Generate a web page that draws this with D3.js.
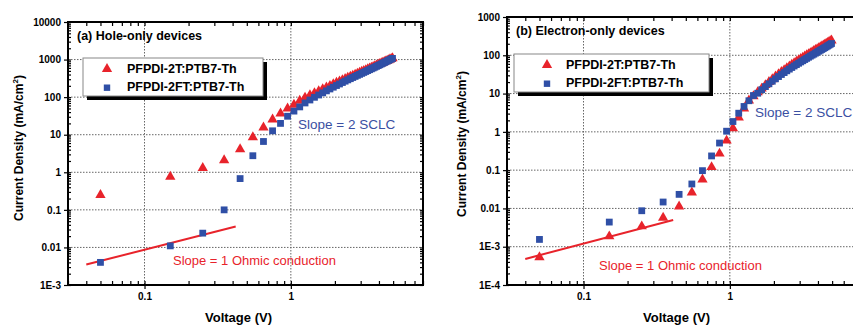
<!DOCTYPE html>
<html lang="en">
<head>
<meta charset="UTF-8">
<title>J-V hole-only / electron-only devices</title>
<script src="https://d3js.org/d3.v7.min.js"></script>
<style>
html, body { margin: 0; padding: 0; background: #fff; }
svg { display: block; font-family: "Liberation Sans", Arial, sans-serif; }
</style>
</head>
<body>
<div id="chart"></div>
<script>
// voltage steps used by both devices
var voltage = [0.05,0.15,0.25,0.35,0.45,0.55,0.65,0.75,0.85,0.95,
  1.05,1.15,1.25,1.35,1.45,1.55,1.65,1.75,1.85,1.95,
  2.05,2.15,2.25,2.35,2.45,2.55,2.65,2.75,2.85,2.95,
  3.05,3.15,3.25,3.35,3.45,3.55,3.65,3.75,3.85,3.95,
  4.05,4.15,4.25,4.35,4.45,4.55,4.65,4.75,4.85,4.95];

// (a) hole-only current density, mA/cm2
var holeT = [0.25,0.76,1.3,2.1,4.1,8.6,15.6,25.5,36.7,50,
  63,80,97,112,128,144,162,180,200,220,
  241,262,283,305,327,350,373,397,421,446,
  472,498,525,553,581,610,640,670,700,731,
  763,795,828,862,896,930,965,1000,1040,1090];
var holeFT = [0.004,0.011,0.024,0.1,0.68,2.76,6.6,12.7,20,31,
  42.5,55,70,84,99,114,130,147,165,184,
  204,224,245,266,288,310,333,356,380,404,
  429,455,482,510,538,567,597,628,660,693,
  727,762,798,835,873,912,952,993,1035,1075];

// (b) electron-only current density, mA/cm2
var elecT = [0.00053,0.00186,0.0034,0.0057,0.0112,0.026,0.057,0.12,0.27,0.59,
  1.24,2.37,4.07,6.6,8.5,10.8,13.5,16.6,20,23.8,
  27.8,32,36.5,41,46,51,56.5,62,68,74,
  80,86.5,93,100,107,114,121,129,137,145,
  153,162,171,180,190,200,210,221,232,244];
var elecFT = [0.00155,0.0044,0.0087,0.0147,0.0233,0.0435,0.097,0.235,0.51,1.04,
  1.86,3.07,4.6,6.5,8.9,10.2,12.6,15.2,18,21,
  24.3,27.8,31.5,35.3,39.3,43.5,48,52.5,57,62,
  67,72,77.5,83,89,95,101,107,114,121,
  128,135,142,150,158,166,175,184,193,203];

// slope = 1 guide lines
var ohmicV_A = [0.04, 0.42], ohmicJ_A = [0.0035, 0.036];
var ohmicV_B = [0.04, 0.41], ohmicJ_B = [0.00048, 0.005];

// ticks
var xTicks = [0.1, 1];
var xLabels = ["0.1", "1"];
var yTicksA = [1e-3, 1e-2, 1e-1, 1, 10, 100, 1000, 10000];
var yLabelsA = ["1E-3", "0.01", "0.1", "1", "10", "100", "1000", "10000"];
var yTicksB = [1e-4, 1e-3, 1e-2, 1e-1, 1, 10, 100, 1000];
var yLabelsB = ["1E-4", "1E-3", "0.01", "0.1", "1", "10", "100", "1000"];

var seriesNames = ["PFPDI-2T:PTB7-Th", "PFPDI-2FT:PTB7-Th"];

var RED = "#e8232b", BLUE = "#2f4fa6";

var svg = d3.select("#chart").append("svg")
  .attr("width", 853).attr("height", 325);
svg.append("rect").attr("width", 853).attr("height", 325).attr("fill", "#fff");

function drawPanel(p) {
  var x = d3.scaleLog().domain([0.03, 8]).range([p.left, p.right]);
  var y = d3.scaleLog().domain(p.yDomain).range([p.bottom, p.top]);
  var g = svg.append("g");

  // dotted grid at the major ticks
  g.selectAll(".gy").data(p.yTicks.slice(1, -1)).enter().append("line")
    .attr("x1", p.left).attr("x2", p.right)
    .attr("y1", function(d) { return y(d); }).attr("y2", function(d) { return y(d); })
    .attr("stroke", "#666").attr("stroke-width", 1).attr("stroke-dasharray", "1.5,1.5");
  g.selectAll(".gx").data(xTicks).enter().append("line")
    .attr("x1", function(d) { return x(d); }).attr("x2", function(d) { return x(d); })
    .attr("y1", p.top).attr("y2", p.bottom)
    .attr("stroke", "#666").attr("stroke-width", 1).attr("stroke-dasharray", "1.5,1.5");

  // axes: labelled majors pointing out, all ticks pointing in
  var xMinor = x.ticks();
  var yMinor = y.ticks();
  function styleAxis(sel) {
    sel.select(".domain").remove();
    sel.selectAll("line").attr("stroke", "#000").attr("stroke-width", 1.2);
    sel.selectAll("text").attr("font-size", 10).attr("font-weight", "bold").attr("fill", "#000")
      .attr("font-family", "Liberation Sans, Arial, sans-serif");
  }
  g.append("g").attr("transform", "translate(0," + p.bottom + ")")
    .call(d3.axisBottom(x).tickValues(xTicks).tickSize(4).tickPadding(4)
      .tickFormat(function(d, i) { return xLabels[i]; }))
    .call(styleAxis);
  g.append("g").attr("transform", "translate(0," + p.bottom + ")")
    .call(d3.axisBottom(x).tickValues(xMinor).tickSize(-4).tickFormat(""))
    .call(styleAxis);
  g.append("g").attr("transform", "translate(0," + p.top + ")")
    .call(d3.axisTop(x).tickValues(xMinor).tickSize(-4).tickFormat(""))
    .call(styleAxis);
  g.append("g").attr("transform", "translate(" + p.left + ",0)")
    .call(d3.axisLeft(y).tickValues(p.yTicks).tickSize(4).tickPadding(3)
      .tickFormat(function(d, i) { return p.yLabels[i]; }))
    .call(styleAxis);
  g.append("g").attr("transform", "translate(" + p.left + ",0)")
    .call(d3.axisLeft(y).tickValues(yMinor).tickSize(-3).tickFormat(""))
    .call(styleAxis);
  g.append("g").attr("transform", "translate(" + p.right + ",0)")
    .call(d3.axisRight(y).tickValues(yMinor).tickSize(-3).tickFormat(""))
    .call(styleAxis);
  g.append("rect")
    .attr("x", p.left).attr("y", p.top)
    .attr("width", p.right - p.left).attr("height", p.bottom - p.top)
    .attr("fill", "none").attr("stroke", "#000").attr("stroke-width", 2);

  // ohmic fit line
  g.append("line")
    .attr("x1", x(p.ohmicV[0])).attr("y1", y(p.ohmicJ[0]))
    .attr("x2", x(p.ohmicV[1])).attr("y2", y(p.ohmicJ[1]))
    .attr("stroke", RED).attr("stroke-width", 2);

  // markers
  var tri = d3.symbol().type(d3.symbolTriangle).size(46);
  g.selectAll(".tri").data(p.jT).enter().append("path")
    .attr("d", tri)
    .attr("transform", function(d, i) { return "translate(" + x(voltage[i]) + "," + y(d) + ")"; })
    .attr("fill", RED);
  g.selectAll(".sq").data(p.jFT).enter().append("rect")
    .attr("x", function(d, i) { return x(voltage[i]) - 3.4; })
    .attr("y", function(d) { return y(d) - 3.4; })
    .attr("width", 6.8).attr("height", 6.8)
    .attr("fill", BLUE);

  // panel title
  g.append("text").attr("x", p.titleX).attr("y", p.top + 18)
    .attr("font-size", 12.5).attr("font-weight", "bold").text(p.title);

  // legend with drop shadow
  var L = p.legend;
  g.append("rect").attr("x", L.x + 4).attr("y", L.y + 4).attr("width", L.w).attr("height", 38).attr("fill", "#000");
  g.append("rect").attr("x", L.x).attr("y", L.y).attr("width", L.w).attr("height", 38)
    .attr("fill", "#fff").attr("stroke", "#888").attr("stroke-width", 1);
  g.append("path").attr("d", tri).attr("fill", RED)
    .attr("transform", "translate(" + L.mx + "," + (L.y + 11) + ")");
  g.append("rect").attr("x", L.mx - 3.2).attr("y", L.y + 26.5).attr("width", 6.4).attr("height", 6.4).attr("fill", BLUE);
  g.selectAll(".lt").data(seriesNames).enter().append("text")
    .attr("x", L.tx).attr("y", function(d, i) { return L.y + 15 + i * 18; })
    .attr("font-size", 12.5).attr("font-weight", "bold").text(function(d) { return d; });

  // annotations
  g.append("text").attr("x", p.sclc[0]).attr("y", p.sclc[1])
    .attr("font-size", 13.5).attr("fill", "#3a4fa2").text("Slope = 2 SCLC");
  g.append("text").attr("x", p.ohm[0]).attr("y", p.ohm[1])
    .attr("font-size", 13).attr("fill", RED).text("Slope = 1 Ohmic conduction");

  // axis titles
  g.append("text").attr("x", (p.left + p.right) / 2 - p.xTitleShift).attr("y", 322)
    .attr("text-anchor", "middle").attr("font-size", 13).attr("font-weight", "bold").text("Voltage (V)");
  var yt = g.append("text")
    .attr("transform", "translate(" + p.yTitleX + "," + p.yTitleY + ") rotate(-90)")
    .attr("text-anchor", "middle").attr("font-size", 12).attr("font-weight", "bold");
  yt.append("tspan").text("Current Density (mA/cm");
  yt.append("tspan").attr("font-size", 8).attr("dy", -5).text("2");
  yt.append("tspan").attr("dy", 5).text(")");
}

drawPanel({
  left: 68, right: 423, top: 22, bottom: 285,
  yDomain: [1e-3, 1e4], yTicks: yTicksA, yLabels: yLabelsA,
  jT: holeT, jFT: holeFT, ohmicV: ohmicV_A, ohmicJ: ohmicJ_A,
  title: "(a) Hole-only devices", titleX: 77,
  legend: { x: 83, y: 58, w: 180, mx: 107, tx: 127 },
  sclc: [298, 129], ohm: [173, 265],
  xTitleShift: 7, yTitleX: 23, yTitleY: 148
});

drawPanel({
  left: 507, right: 862, top: 17, bottom: 285,
  yDomain: [1e-4, 1e3], yTicks: yTicksB, yLabels: yLabelsB,
  jT: elecT, jFT: elecFT, ohmicV: ohmicV_B, ohmicJ: ohmicJ_B,
  title: "(b) Electron-only devices", titleX: 516,
  legend: { x: 514, y: 54, w: 195, mx: 547, tx: 566 },
  sclc: [755, 117], ohm: [599, 270],
  xTitleShift: 8, yTitleX: 466, yTitleY: 144
});
</script>
</body>
</html>
